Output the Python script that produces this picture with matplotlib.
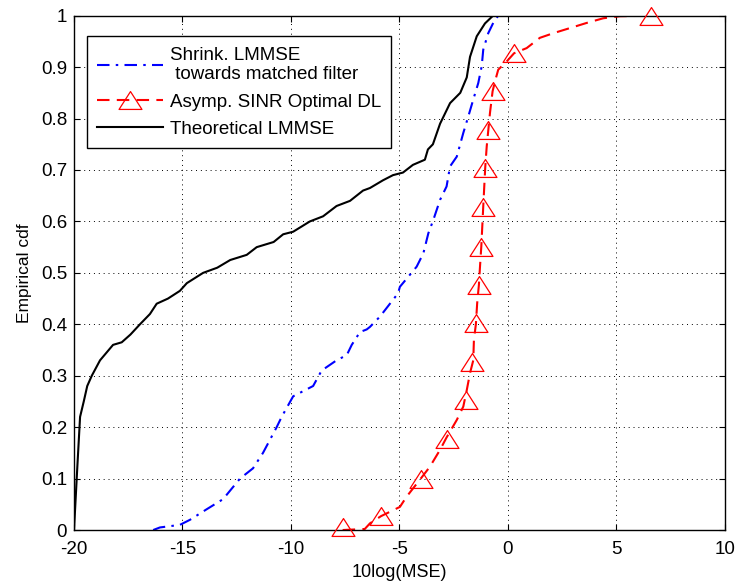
import matplotlib
matplotlib.use("Agg")
import matplotlib.pyplot as plt
from matplotlib.path import Path
from matplotlib.lines import Line2D

plt.rcParams['font.family'] = ['Liberation Sans', 'DejaVu Sans']
plt.rcParams['axes.unicode_minus'] = False

# Theoretical LMMSE (black)
theo_x = [-20.0, -19.85, -19.72, -19.55, -19.39, -19.18, -18.8, -18.5, -18.2, -17.8, -17.4,
          -16.96, -16.5, -16.19, -15.67, -15.12, -14.8, -14.05, -13.4, -12.8, -12.04, -11.58,
          -10.8, -10.36, -9.9, -9.13, -8.52, -7.9, -7.28, -6.68, -6.36, -5.76, -5.3, -4.84,
          -4.38, -3.83, -3.69, -3.46, -3.13, -2.67, -2.2, -1.9, -1.75, -1.44, -1.06, -0.69]
theo_y = [0.0, 0.12, 0.22, 0.25, 0.28, 0.30, 0.33, 0.345, 0.36, 0.365, 0.38,
          0.40, 0.42, 0.44, 0.45, 0.465, 0.48, 0.50, 0.51, 0.525, 0.535, 0.55,
          0.56, 0.575, 0.58, 0.60, 0.61, 0.63, 0.64, 0.66, 0.665, 0.68, 0.69, 0.695,
          0.71, 0.72, 0.74, 0.75, 0.79, 0.83, 0.85, 0.88, 0.92, 0.96, 0.985, 1.0]

# Shrink. LMMSE towards matched filter (blue)
shr_x = [-16.35, -16.04, -15.12, -14.65, -13.9, -13.13, -12.35, -11.75, -11.29, -10.66,
         -10.43, -9.9, -8.98, -8.59, -7.9, -7.43, -7.2, -6.82, -6.51, -6.36, -5.9, -5.44,
         -5.07, -4.98, -4.21, -3.90, -3.67, -3.44, -3.13, -2.83, -2.67, -2.36, -2.06,
         -1.83, -1.60, -1.37, -1.21, -1.14, -0.91, -0.68, -0.45]
shr_y = [0.0, 0.005, 0.01, 0.02, 0.04, 0.06, 0.10, 0.12, 0.15, 0.20,
         0.22, 0.26, 0.28, 0.31, 0.33, 0.34, 0.36, 0.385, 0.39, 0.395, 0.415, 0.44,
         0.46, 0.473, 0.512, 0.538, 0.577, 0.603, 0.642, 0.668, 0.707, 0.726, 0.772,
         0.804, 0.837, 0.869, 0.902, 0.934, 0.966, 0.986, 1.0]

# Asymp. SINR Optimal DL (red) curve
opt_x = [-7.62, -6.6, -6.36, -5.85, -4.98, -4.67, -4.02, -3.6, -3.13, -2.83, -2.36, -2.06,
         -1.9, -1.75, -1.6, -1.57, -1.48, -1.42, -1.34, -1.29, -1.23, -1.14, -1.05, -0.98,
         -0.83, -0.71, -0.6, -0.45, -0.06, 0.28, 0.86, 1.47, 2.09, 2.86, 3.63, 4.39, 5.16, 6.59]
opt_y = [0.0, 0.002, 0.013, 0.027, 0.045, 0.065, 0.10, 0.123, 0.156, 0.18, 0.214, 0.24,
         0.272, 0.305, 0.33, 0.37, 0.40, 0.441, 0.477, 0.512, 0.551, 0.629, 0.704, 0.746,
         0.811, 0.853, 0.872, 0.895, 0.911, 0.927, 0.937, 0.957, 0.966, 0.976, 0.986, 0.995, 0.999, 1.0]

# Asymp. SINR Optimal DL (red) marker positions
mk_x = [-7.62, -5.85, -4.02, -2.83, -1.94, -1.66, -1.48, -1.34, -1.23, -1.14, -1.05,
        -0.91, -0.71, 0.28, 6.59]
mk_y = [0.005, 0.027, 0.10, 0.177, 0.252, 0.327, 0.402, 0.477, 0.551, 0.629, 0.704,
        0.778, 0.853, 0.927, 1.0]

labels = ["Shrink. LMMSE\n towards matched filter", "Asymp. SINR Optimal DL", "Theoretical LMMSE"]
xticks = [-20, -15, -10, -5, 0, 5, 10]
yticks = [0, 0.1, 0.2, 0.3, 0.4, 0.5, 0.6, 0.7, 0.8, 0.9, 1.0]
yticklabels = ["0", "0.1", "0.2", "0.3", "0.4", "0.5", "0.6", "0.7", "0.8", "0.9", "1"]

tri = Path([(-1, -0.78), (1, -0.78), (0, 0.78), (-1, -0.78)],
           [Path.MOVETO, Path.LINETO, Path.LINETO, Path.CLOSEPOLY])

fig = plt.figure(figsize=(7.37, 5.88), dpi=100)
ax = fig.add_axes([0.1004, 0.0986, 0.8833, 0.8747])

l1, = ax.plot(shr_x, shr_y, color='blue', lw=1.5, dashes=[6, 3, 1.2, 3])
ax.plot(opt_x, opt_y, color='red', lw=1.5, dashes=[6, 3.5])
ax.plot(mk_x, mk_y, ls='none', marker=tri, markersize=16.5, markerfacecolor='none',
        markeredgecolor='red', markeredgewidth=0.9, clip_on=False, zorder=5)
l3, = ax.plot(theo_x, theo_y, color='black', lw=1.5)

l2 = Line2D([], [], color='red', lw=1.5, dashes=[6, 3.5], marker=tri, markersize=16.5,
            markerfacecolor='none', markeredgecolor='red', markeredgewidth=0.9)

ax.set_xlim(-20, 10)
ax.set_ylim(0, 1)
ax.set_xticks(xticks)
ax.set_yticks(yticks)
ax.set_yticklabels(yticklabels)
ax.tick_params(direction='in', top=True, right=True, length=4, width=0.8, labelsize=13.5)
ax.tick_params(axis='x', pad=8)
ax.tick_params(axis='y', pad=5)
ax.grid(True, color='black', linestyle=(0, (1, 4)), linewidth=0.7)
for s in ax.spines.values():
    s.set_linewidth(1.0)

ax.set_xlabel("10log(MSE)", fontsize=13, labelpad=4)
ax.set_ylabel("Empirical cdf", fontsize=12.5, labelpad=6)

leg = ax.legend([l1, l2, l3], labels, loc='upper left', bbox_to_anchor=(0.02, 0.96),
                borderaxespad=0, fontsize=13.5, frameon=True, fancybox=False, framealpha=1,
                edgecolor='black', handlelength=3.5, borderpad=0.55, labelspacing=0.55,
                handletextpad=0.35)
leg.get_frame().set_linewidth(1.0)

fig.savefig("out.png", dpi=100)
